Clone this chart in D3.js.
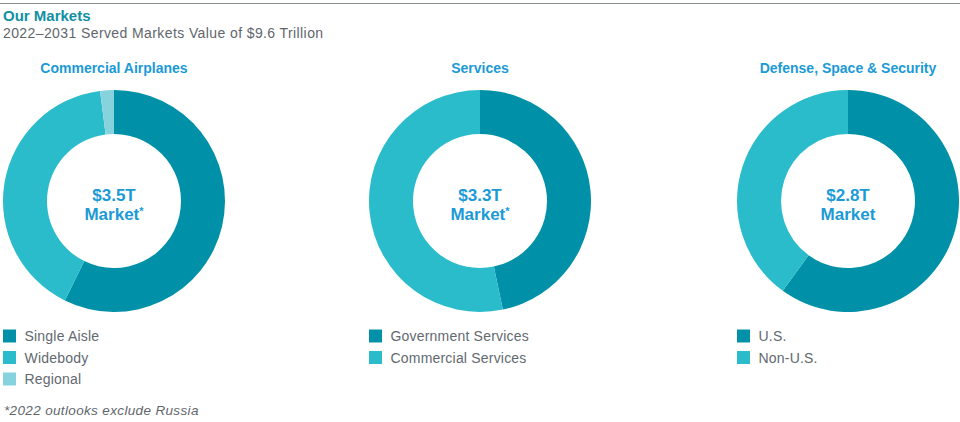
<!DOCTYPE html>
<html><head><meta charset="utf-8">
<script src="https://cdn.jsdelivr.net/npm/d3@7"></script>
<style>
body{margin:0;background:#fff;}
text{font-family:"Liberation Sans",Arial,Helvetica,sans-serif;}
</style></head>
<body><svg id="c" width="960" height="422"></svg>
<script>
const chartTitles = ["Commercial Airplanes", "Services", "Defense, Space & Security"];
const centerValues = ["$3.5T", "$3.3T", "$2.8T"];
const centerLabels = ["Market*", "Market*", "Market"];
const airplanesLabels = ["Single Aisle", "Widebody", "Regional"];
const airplanesValues = [57.3, 40.7, 2.0];
const servicesLabels = ["Government Services", "Commercial Services"];
const servicesValues = [46.7, 53.3];
const defenseLabels = ["U.S.", "Non-U.S."];
const defenseValues = [60, 40];
const colors = ["#0091a9", "#2bbccb", "#86d3de"];

const svg = d3.select("#c");
svg.append("line").attr("x1",0).attr("x2",960).attr("y1",3.5).attr("y2",3.5).attr("stroke","#8a8f94").attr("stroke-width",1);
svg.append("text").attr("x",3).attr("y",21).attr("fill","#1290a3").attr("font-size",15).attr("font-weight","bold").text("Our Markets");
svg.append("text").attr("x",3).attr("y",38).attr("fill","#5f666c").attr("font-size",14).attr("letter-spacing",0.4).text("2022\u20132031 Served Markets Value of $9.6 Trillion");

const groups = [
  {labels: airplanesLabels, values: airplanesValues, cx: 114, lx: 3},
  {labels: servicesLabels, values: servicesValues, cx: 480, lx: 369},
  {labels: defenseLabels, values: defenseValues, cx: 848, lx: 737}
];
const cy = 201, rO = 111, rI = 67;
const pie = d3.pie().sort(null).value(d => d);
const arc = d3.arc().innerRadius(rI).outerRadius(rO);

groups.forEach((g, i) => {
  svg.append("text").attr("x", g.cx).attr("y", 73).attr("text-anchor","middle")
    .attr("fill","#1b9ad6").attr("font-size",14).attr("font-weight","bold").text(chartTitles[i]);
  const gg = svg.append("g").attr("transform",`translate(${g.cx},${cy})`);
  gg.selectAll("path").data(pie(g.values)).join("path").attr("d", arc).attr("fill",(d,j)=>colors[j]);
  gg.append("text").attr("x",0).attr("y",0).attr("text-anchor","middle").attr("fill","#1b9ad6")
    .attr("font-size",17).attr("font-weight","bold").text(centerValues[i]);
  const cl = gg.append("text").attr("x",0).attr("y",19).attr("text-anchor","middle").attr("fill","#1b9ad6")
    .attr("font-size",17).attr("font-weight","bold");
  const lbl = centerLabels[i];
  if (lbl.endsWith("*")) {
    cl.append("tspan").text(lbl.slice(0,-1));
    cl.append("tspan").attr("font-size",11).attr("dy",-5).text("*");
  } else cl.text(lbl);
  const lg = svg.append("g");
  g.labels.forEach((l, j) => {
    const y = 336 + j*21.5;
    lg.append("rect").attr("x", g.lx).attr("y", y-6.5).attr("width",13).attr("height",13).attr("fill",colors[j]);
    lg.append("text").attr("x", g.lx+21.5).attr("y", y+5).attr("fill","#62696f").attr("font-size",14).attr("letter-spacing",0.2).text(l);
  });
});
svg.append("text").attr("x",4).attr("y",415).attr("fill","#5f666c").attr("font-size",13.5).attr("letter-spacing",0.35).attr("font-style","italic").text("*2022 outlooks exclude Russia");
</script></body></html>
